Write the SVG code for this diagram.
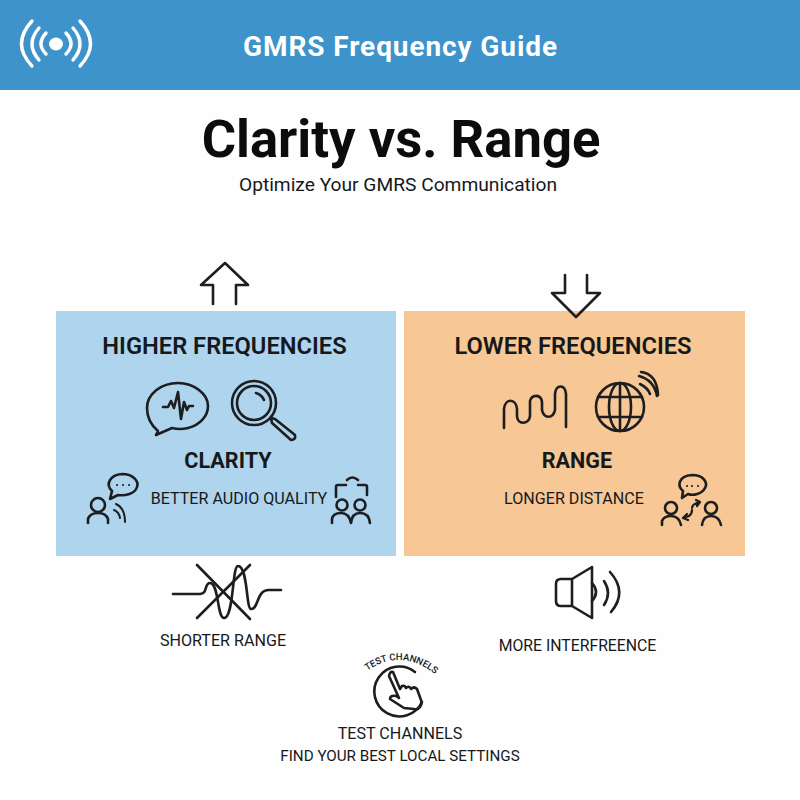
<svg xmlns="http://www.w3.org/2000/svg" width="800" height="800" viewBox="0 0 800 800">
<style>
text{font-family:Roboto,"Liberation Sans",sans-serif;fill:#16181a;text-anchor:middle}
.h{font-size:23.700px;font-weight:600}
.s{font-size:21.600px;font-weight:700}
.l{font-size:16.100px}
.i{fill:none;stroke:#1c1e20;stroke-width:2.6;stroke-linecap:round;stroke-linejoin:round}
.w{fill:none;stroke:#fff;stroke-width:3.4;stroke-linecap:round}
</style>
<defs><path id="curve" d="M352 684Q400 634 450 688"/></defs>
<rect width="800" height="800" fill="#fefefe"/>
<g id="header">
<rect width="800" height="90" fill="#3d93ca"/>
<g id="signal-icon">
<ellipse cx="56" cy="44" rx="7" ry="6.500" fill="#fff"/>
<path class="w" d="M46 33Q36 44 46 54M66 33Q76 44 66 54M39 28Q25 44 39 60M73 28Q87 44 73 60M32 21Q11 44 32 66M80 21Q101 44 80 66"/>
</g>
<text x="400.500" y="56" style="font-size:28px;font-weight:700;letter-spacing:.9px;fill:#fff">GMRS Frequency Guide</text>
</g>
<g id="title">
<text x="401" y="157" style="font-size:52.600px;font-weight:700;fill:#0c0c0c">Clarity vs. Range</text>
<text x="398" y="191" style="font-size:19.200px">Optimize Your GMRS Communication</text>
</g>
<g id="higher">
<rect x="56" y="311" width="340" height="245" fill="#aed4ee"/>
<text class="h" x="224.500" y="354">HIGHER FREQUENCIES</text>
<g id="speech-wave" class="i">
<path d="M158 431L156 435L172 428Q180 430 188 428C200 425 208 416 208 406C208 394 194 383 178 383C161 383 147 394 147 408C147 418 152 426 158 431Z"/>
<path d="M163 407H168L171 401L174 408L178 392L181 419L184 402L187 410L189 406H193"/>
</g>
<g id="magnifier" class="i">
<circle cx="254" cy="403" r="22"/><circle cx="254" cy="403" r="17"/>
<path d="M256 393Q262 395 264 400M271 418L275 419L295 435Q296 440 291 440L272 423Z"/>
</g>
<text class="s" x="228" y="468">CLARITY</text>
<text class="l" x="239" y="504">BETTER AUDIO QUALITY</text>
<g id="person-chat" class="i">
<circle cx="98" cy="505" r="7"/><path d="M88 523V519Q90 513 98 513Q106 513 108 519V523"/>
<path d="M110 499L112 491C105 484 110 475 122 474C134 474 139 482 137 487C135 494 125 496 118 495Z"/>
<path stroke-width="2" d="M117 485h.1M123 485h.1M129 485h.1M114 510Q119 512 120 518M116 504Q125 508 125 522"/>
</g>
<g id="group-people" class="i">
<path d="M336 497V487Q336 485 338 485H346M358 485H365Q367 485 367 487V495M347 480Q352 475 358 480"/>
<circle cx="342" cy="505" r="5.500"/><circle cx="360" cy="505" r="5.500"/>
<path d="M332 523V519Q333 513 341 513Q349 513 351 523Q352 513 360 513Q369 513 370 523"/>
</g>
</g>
<g id="lower">
<rect x="404" y="311" width="341" height="245" fill="#f7c796"/>
<text class="h" x="573" y="354">LOWER FREQUENCIES</text>
<path id="wave" class="i" d="M504 428V409C505 398 516 398 517 409V416C517 425 529 425 530 416V401C532 394 541 394 542 402V410C544 419 553 419 555 410V394C556 384 565 384 566 394V427"/>
<g id="globe" class="i">
<circle cx="620" cy="407" r="24"/><ellipse cx="620" cy="407" rx="11" ry="24"/>
<path d="M620 383V431M598 397H642M598 417H642"/>
<path d="M640 384Q648 388 650 394M639 376Q654 380 657 396M641 372Q657 374 658 395"/>
</g>
<text class="s" x="577" y="468">RANGE</text>
<text class="l" x="574" y="504">LONGER DISTANCE</text>
<g id="people-exchange" class="i">
<circle cx="671" cy="508" r="6"/><circle cx="711" cy="508" r="6"/>
<path d="M662 525V521Q664 516 671 516Q679 516 681 525M702 525Q703 516 711 516Q719 516 721 525"/>
<path d="M682 498L683 491C677 486 678 476 692 475C704 475 708 483 705 488C702 494 693 496 688 494Z"/>
<path stroke-width="2" d="M687 486h.1M692 486h.1M698 486h.1"/>
<path stroke-width="2.200" d="M683 518L689 516Q692 514 692 510M687 514L683 518L688 520M692 508Q692 504 700 502M696 500L700 502L697 506"/>
</g>
</g>
<g id="connectors">
<path class="i" d="M213 304V285H201L225 263L248 285H236V304"/>
<path class="i" d="M565 275V293H552L576 317L600 293H587V275"/>
</g>
<g id="shorter-range">
<path class="i" d="M173 594H200C208 594 204 583 210 583C219 583 217 618 224 618C234 618 232 566 238 566C248 566 246 609 251 609C259 609 256 590 269 590H281"/>
<path class="i" d="M197 565L250 619M197 618L250 565"/>
<text class="l" x="223" y="646">SHORTER RANGE</text>
</g>
<g id="interference">
<path class="i" d="M572 579H561Q556 579 556 584V601Q556 606 561 606H572L592 618V567ZM572 579V606"/>
<path class="i" d="M592 583Q600 592 592 601M604 581Q612 593 604 605M610 572Q628 592 611 612"/>
<text x="577.500" y="651" style="font-size:15.800px">MORE INTERFREENCE</text>
</g>
<g id="test-channels">
<path class="i" d="M415 672A25 25 0 1 0 422 702"/>
<path class="i" d="M393 672L400 689L402 686Q405 685 406 688Q409 685 411 689Q414 686 417 689L421 700C423 704 419 711 414 709L404 708L390 699Q390 695 396 696L399 698L389 676Q390 671 393 672Z"/>
<text style="font-size:9.500px;font-weight:500"><textPath href="#curve" startOffset="50%">TEST CHANNELS</textPath></text>
<text class="l" x="400" y="739">TEST CHANNELS</text>
<text x="400" y="761" style="font-size:15.200px">FIND YOUR BEST LOCAL SETTINGS</text>
</g>
</svg>
